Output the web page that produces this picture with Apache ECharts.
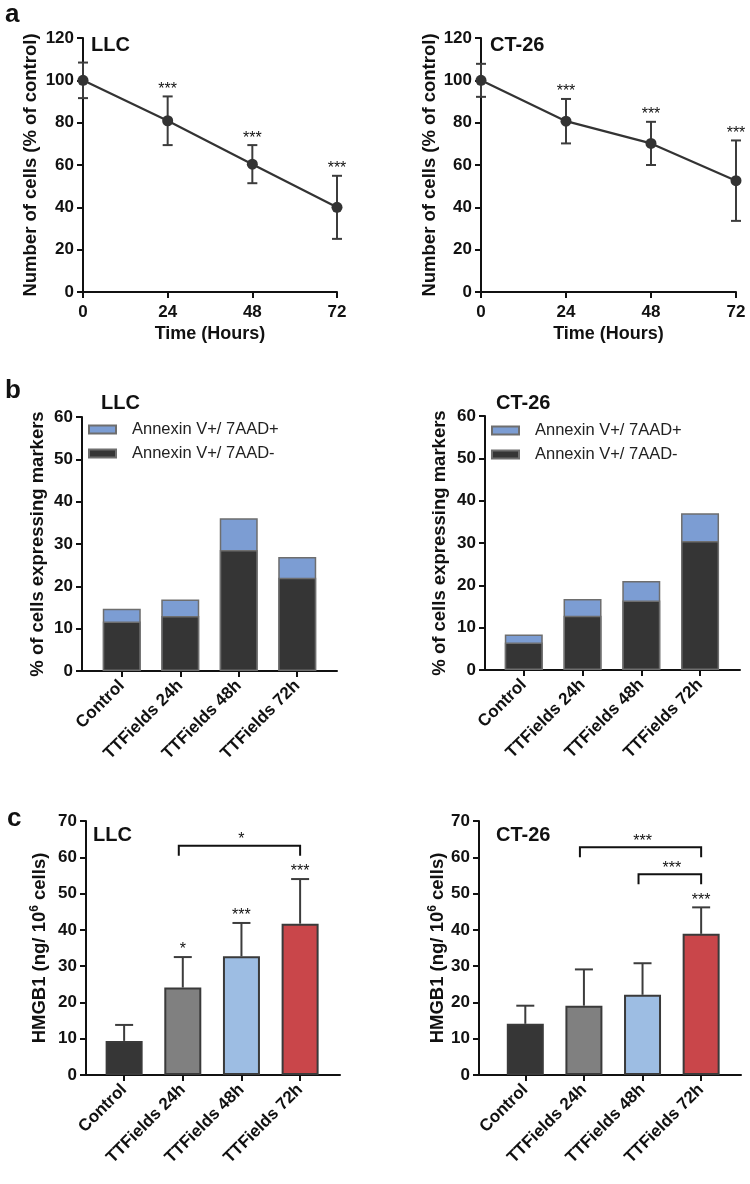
<!DOCTYPE html>
<html>
<head>
<meta charset="utf-8">
<script src="https://cdn.jsdelivr.net/npm/echarts@6/dist/echarts.min.js"></script>
<style>
  html, body { margin: 0; padding: 0; background: #fff; }
  #chart { width: 750px; height: 1184px; }
</style>
</head>
<body>
<div id="chart"></div>
<script>
var FONT = '"Liberation Sans", Arial, Helvetica, sans-serif';

// panel a: cell number over time (% of control), mean and SD
var hours = [0, 24, 48, 72];
var llcCells = [100, 80.9, 60.4, 40];
var llcCellsSd = [8.4, 11.5, 9, 14.9];
var ctCells = [100, 80.7, 70.2, 52.6];
var ctCellsSd = [7.8, 10.5, 10.2, 19];
var cellStars = ['', '***', '***', '***'];

// panel b: annexin staining
var groups = ['Control', 'TTFields 24h', 'TTFields 48h', 'TTFields 72h'];
var llcEarly = [11.7, 13.0, 28.6, 22.0];   // Annexin V+/ 7AAD-
var llcLate = [3.0, 3.9, 7.5, 4.9];        // Annexin V+/ 7AAD+
var ctEarly = [6.5, 12.8, 16.4, 30.5];
var ctLate = [1.9, 4.0, 4.6, 6.5];

// panel c: HMGB1 release, mean and SD
var llcHmgb = [9.4, 24.1, 32.7, 41.7];
var llcHmgbSd = [4.4, 8.4, 9.2, 12.3];
var ctHmgb = [14.1, 19.1, 22.1, 38.9];
var ctHmgbSd = [5.0, 10.0, 8.7, 7.3];
var llcHmgbStars = ['', '*', '***', '***'];
var ctHmgbStars = ['', '', '', '***'];
// brackets: [from group, to group, height, label]
var llcBrackets = [[1, 3, 63.2, '*']];
var ctBrackets = [[1, 3, 62.8, '***'], [2, 3, 55.3, '***']];

var barColors = ['#363636', '#808080', '#9dbde3', '#c9464a'];
var axisColor = '#111';

var chart = echarts.init(document.getElementById('chart'));

function pairs(xs, ys) {
  return ys.map(function (v, i) { return [xs[i], v]; });
}
function idx(arr) { return arr.map(function (v, i) { return i; }); }

var grids = [
  { left: 83, top: 38, width: 254, height: 254 },
  { left: 481, top: 38, width: 255, height: 254 },
  { left: 82, top: 417, width: 255, height: 254 },
  { left: 485, top: 416, width: 255, height: 254 },
  { left: 86, top: 821, width: 254, height: 254 },
  { left: 479, top: 821, width: 262, height: 254 }
];

var lineStyle = { color: axisColor, width: 2 };
var tickStyle = { show: true, length: 6, lineStyle: { color: axisColor, width: 2 } };
var labelBold = { color: '#111', fontSize: 17, fontWeight: 'bold', fontFamily: FONT };

function timeAxis(gi) {
  return {
    type: 'value', gridIndex: gi, min: 0, max: 72, interval: 24,
    axisLine: { onZero: false, lineStyle: lineStyle }, axisTick: tickStyle,
    axisLabel: Object.assign({ margin: 12 }, labelBold),
    splitLine: { show: false },
    name: 'Time (Hours)', nameLocation: 'middle', nameGap: 33,
    nameTextStyle: { color: '#111', fontSize: 18, fontWeight: 'bold', fontFamily: FONT }
  };
}
function groupAxis(gi, min) {
  return {
    type: 'value', gridIndex: gi, min: min, max: 3.68,
    axisLine: { onZero: false, lineStyle: lineStyle },
    axisTick: Object.assign({ customValues: [0, 1, 2, 3] }, tickStyle),
    axisLabel: Object.assign({
      customValues: [0, 1, 2, 3], rotate: 45, margin: 12,
      formatter: function (v) { return groups[Math.round(v)]; }
    }, labelBold),
    splitLine: { show: false }
  };
}
function yAxis(gi, max, interval, name, gap) {
  return {
    type: 'value', gridIndex: gi, min: 0, max: max, interval: interval,
    axisLine: { show: true, onZero: false, lineStyle: lineStyle }, axisTick: tickStyle,
    axisLabel: Object.assign({ margin: 9 }, labelBold),
    splitLine: { show: false },
    name: name, nameLocation: 'middle', nameRotate: 90, nameGap: gap,
    nameTextStyle: {
      color: '#111', fontSize: 18.5, fontWeight: 'bold', fontFamily: FONT,
      rich: {
        a: { fontSize: 18.5, fontWeight: 'bold', fontFamily: FONT, color: '#111', lineHeight: 22 },
        s: { fontSize: 12, fontWeight: 'bold', fontFamily: FONT, color: '#111', verticalAlign: 'top', lineHeight: 12 }
      }
    }
  };
}

// symmetric (line) or upward (bar) error bars
function errorSeries(gi, xs, means, sds, both, cap) {
  return {
    type: 'custom', xAxisIndex: gi, yAxisIndex: gi, z: 3,
    data: means.map(function (m, i) { return [xs[i], m, sds[i]]; }),
    encode: { x: 0, y: 1 },
    renderItem: function (params, api) {
      var x = api.value(0), m = api.value(1), e = api.value(2);
      var top = api.coord([x, m + e]);
      var bot = api.coord([x, both ? m - e : m]);
      var st = { stroke: '#3c3c3c', lineWidth: 2 };
      var kids = [
        { type: 'line', shape: { x1: top[0], y1: top[1], x2: bot[0], y2: bot[1] }, style: st },
        { type: 'line', shape: { x1: top[0] - cap, y1: top[1], x2: top[0] + cap, y2: top[1] }, style: st }
      ];
      if (both) {
        kids.push({ type: 'line', shape: { x1: bot[0] - cap, y1: bot[1], x2: bot[0] + cap, y2: bot[1] }, style: st });
      }
      return { type: 'group', children: kids };
    }
  };
}

function starSeries(gi, xs, tops, stars, size) {
  return {
    type: 'custom', xAxisIndex: gi, yAxisIndex: gi, z: 5,
    data: tops.map(function (t, i) { return [xs[i], t]; }),
    encode: { x: 0, y: 1 },
    renderItem: function (params, api) {
      var p = api.coord([api.value(0), api.value(1)]);
      return {
        type: 'text', x: p[0], y: p[1] + 1,
        style: { text: stars[params.dataIndex], fill: '#111', font: size + 'px ' + FONT, align: 'center', verticalAlign: 'bottom' }
      };
    }
  };
}

function bracketSeries(gi, list, starSize) {
  return {
    type: 'custom', xAxisIndex: gi, yAxisIndex: gi, z: 5,
    data: list.map(function (b) { return [b[0], b[1], b[2]]; }),
    encode: { x: [0, 1], y: 2 },
    renderItem: function (params, api) {
      var a = api.coord([api.value(0), api.value(2)]);
      var b = api.coord([api.value(1), api.value(2)]);
      var st = { stroke: '#111', lineWidth: 2, fill: null };
      return {
        type: 'group', children: [
          { type: 'polyline', shape: { points: [[a[0] - 4, a[1] + 10], [a[0] - 4, a[1]], [b[0], b[1]], [b[0], b[1] + 10]] }, style: st },
          { type: 'text', x: (a[0] + b[0]) / 2, y: a[1] + 2,
            style: { text: list[params.dataIndex][3], fill: '#111', font: starSize + 'px ' + FONT, align: 'center', verticalAlign: 'bottom' } }
        ]
      };
    }
  };
}

function lineSeries(gi, vals) {
  return {
    type: 'line', xAxisIndex: gi, yAxisIndex: gi, z: 4,
    data: pairs(hours, vals),
    symbol: 'circle', symbolSize: 11,
    itemStyle: { color: '#333' },
    lineStyle: { color: '#333', width: 2.2 }
  };
}

// late (7AAD+) drawn as the full column, early (7AAD-) laid over its lower part
function stackSeries(gi, early, late) {
  var bw = 38;
  var border = { borderColor: '#6e6e6e', borderWidth: 1.5 };
  var totals = early.map(function (v, i) { return v + late[i]; });
  return [
    { name: 'Annexin V+/ 7AAD+', type: 'bar', xAxisIndex: gi, yAxisIndex: gi, z: 2,
      barWidth: bw, barGap: '-100%', data: pairs(idx(totals), totals),
      itemStyle: Object.assign({ color: '#7c9dd3' }, border) },
    { name: 'Annexin V+/ 7AAD-', type: 'bar', xAxisIndex: gi, yAxisIndex: gi, z: 3,
      barWidth: bw, barGap: '-100%', data: pairs(idx(early), early),
      itemStyle: Object.assign({ color: '#353535' }, border) }
  ];
}

function hmgbSeries(gi, vals) {
  return {
    type: 'bar', xAxisIndex: gi, yAxisIndex: gi, barWidth: 37, z: 2,
    data: vals.map(function (v, i) {
      return { value: [i, v], itemStyle: { color: barColors[i] } };
    }),
    itemStyle: { borderColor: '#3a3a3a', borderWidth: 2 }
  };
}

function legend(left, top) {
  return {
    left: left, top: top, orient: 'vertical', itemWidth: 27, itemHeight: 8, itemGap: 7,
    icon: 'rect', selectedMode: false,
    data: ['Annexin V+/ 7AAD+', 'Annexin V+/ 7AAD-'],
    textStyle: { fontSize: 16.5, color: '#222', fontFamily: FONT, padding: [0, 0, 0, 11] }
  };
}

function label(text, x, y, size) {
  return { type: 'text', left: x, top: y,
    style: { text: text, fill: '#111', font: 'bold ' + size + 'px ' + FONT } };
}

var hmgbName = '{a|HMGB1 (ng/ 10}{s|6}{a| cells)}';

chart.setOption({
  animation: false,
  grid: grids,
  xAxis: [
    timeAxis(0), timeAxis(1),
    groupAxis(2, -0.68), groupAxis(3, -0.66),
    groupAxis(4, -0.65), groupAxis(5, -0.79)
  ],
  yAxis: [
    yAxis(0, 120, 20, 'Number of cells (% of control)', 43),
    yAxis(1, 120, 20, 'Number of cells (% of control)', 42),
    yAxis(2, 60, 10, '% of cells expressing markers', 35),
    yAxis(3, 60, 10, '% of cells expressing markers', 36),
    yAxis(4, 70, 10, hmgbName, 35),
    yAxis(5, 70, 10, hmgbName, 28)
  ],
  legend: [legend(83, 416), legend(486, 417)],
  graphic: [
    label('a', 5, 2, 26), label('b', 5, 378, 26), label('c', 7, 806, 26),
    label('LLC', 91, 35, 20), label('CT-26', 490, 35, 20),
    label('LLC', 101, 393, 20), label('CT-26', 496, 393, 20),
    label('LLC', 93, 825, 20), label('CT-26', 496, 825, 20)
  ],
  series: [
    errorSeries(0, hours, llcCells, llcCellsSd, true, 5),
    lineSeries(0, llcCells),
    starSeries(0, hours, llcCells.map(function (m, i) { return m + llcCellsSd[i]; }), cellStars, 16),
    errorSeries(1, hours, ctCells, ctCellsSd, true, 5),
    lineSeries(1, ctCells),
    starSeries(1, hours, ctCells.map(function (m, i) { return m + ctCellsSd[i]; }), cellStars, 16)
  ]
    .concat(stackSeries(2, llcEarly, llcLate))
    .concat(stackSeries(3, ctEarly, ctLate))
    .concat([
      hmgbSeries(4, llcHmgb),
      errorSeries(4, idx(llcHmgb), llcHmgb, llcHmgbSd, false, 9),
      starSeries(4, idx(llcHmgb), llcHmgb.map(function (m, i) { return m + llcHmgbSd[i]; }), llcHmgbStars, 16),
      bracketSeries(4, llcBrackets, 16),
      hmgbSeries(5, ctHmgb),
      errorSeries(5, idx(ctHmgb), ctHmgb, ctHmgbSd, false, 9),
      starSeries(5, idx(ctHmgb), ctHmgb.map(function (m, i) { return m + ctHmgbSd[i]; }), ctHmgbStars, 16),
      bracketSeries(5, ctBrackets, 16)
    ])
});
</script>
</body>
</html>
